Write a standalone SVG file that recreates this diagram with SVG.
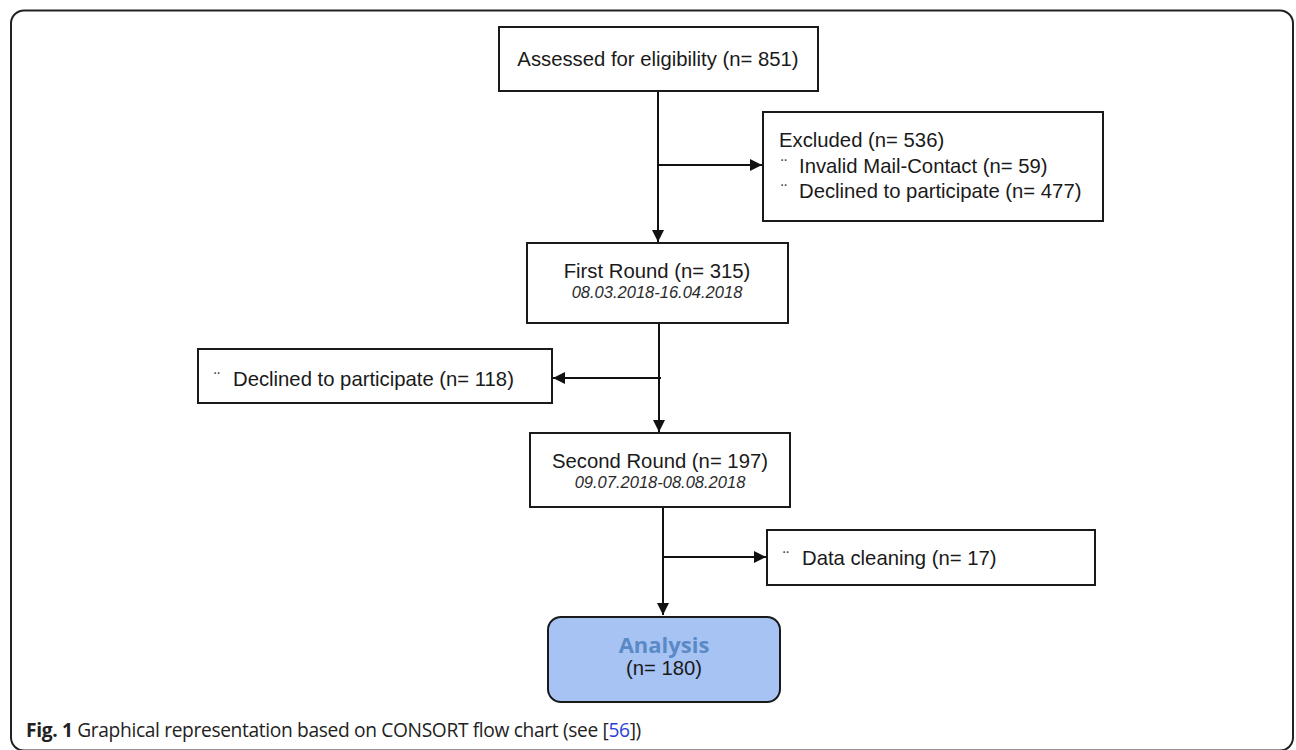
<svg xmlns="http://www.w3.org/2000/svg" width="1296" height="750" viewBox="0 0 1296 750">
<style>
.box{fill:#fff;stroke:#1a1a1a;stroke-width:2}
.t{font-family:"Liberation Sans",Arial,sans-serif;font-size:20.3px;fill:#1a1a1a}
.d{font-family:"Liberation Sans",Arial,sans-serif;font-size:16.5px;font-style:italic;fill:#2a2a2a}
.b{font-family:"Liberation Sans",Arial,sans-serif;font-size:18px;fill:#444}
.c{stroke:#111;stroke-width:2;fill:none}
.cap{font-family:"Open Sans","Noto Sans",sans-serif;font-size:19.2px;letter-spacing:-0.35px;fill:#222}
</style>
<defs>
<marker id="ah" markerWidth="12" markerHeight="12" refX="12" refY="6" orient="auto" markerUnits="userSpaceOnUse">
<path d="M0,0 L12,6 L0,12 Z" fill="#111"/>
</marker>
</defs>
<rect x="11" y="10.5" width="1282" height="740" rx="13" fill="#fff" stroke="#222" stroke-width="2"/>
<g id="connectors">
<line class="c" x1="658" y1="91" x2="658" y2="242" marker-end="url(#ah)"/>
<line class="c" x1="658" y1="165" x2="762" y2="165" marker-end="url(#ah)"/>
<line class="c" x1="659" y1="323" x2="659" y2="432" marker-end="url(#ah)"/>
<line class="c" x1="661" y1="378" x2="553" y2="378" marker-end="url(#ah)"/>
<line class="c" x1="663" y1="508" x2="663" y2="615" marker-end="url(#ah)"/>
<line class="c" x1="663" y1="557" x2="766" y2="557" marker-end="url(#ah)"/>
</g>
<g id="assessed">
<rect class="box" x="499" y="27" width="319" height="64"/>
<text class="t" x="658" y="66" text-anchor="middle">Assessed for eligibility (n= 851)</text>
</g>
<g id="excluded">
<rect class="box" x="763" y="112" width="340" height="109"/>
<text class="t" x="779" y="147">Excluded (n= 536)</text>
<text class="b" x="781" y="172">¨</text>
<text class="t" x="799" y="173">Invalid Mail-Contact (n= 59)</text>
<text class="b" x="781" y="197">¨</text>
<text class="t" x="799" y="198">Declined to participate (n= 477)</text>
</g>
<g id="first-round">
<rect class="box" x="527" y="243" width="261" height="80"/>
<text class="t" x="657" y="278" text-anchor="middle">First Round (n= 315)</text>
<text class="d" x="657" y="298" text-anchor="middle">08.03.2018-16.04.2018</text>
</g>
<g id="declined">
<rect class="box" x="198" y="349" width="354" height="54"/>
<text class="b" x="214" y="385">¨</text>
<text class="t" x="233" y="386">Declined to participate (n= 118)</text>
</g>
<g id="second-round">
<rect class="box" x="530" y="433" width="260" height="74"/>
<text class="t" x="660" y="468" text-anchor="middle">Second Round (n= 197)</text>
<text class="d" x="660" y="488" text-anchor="middle">09.07.2018-08.08.2018</text>
</g>
<g id="data-cleaning">
<rect class="box" x="767" y="530" width="328" height="55"/>
<text class="b" x="783" y="564">¨</text>
<text class="t" x="802" y="565">Data cleaning (n= 17)</text>
</g>
<g id="analysis">
<rect x="548" y="617" width="232" height="85" rx="13" fill="#a6c3f3" stroke="#1a1a1a" stroke-width="2"/>
<text x="664" y="653" text-anchor="middle" font-family="'Open Sans','Noto Sans',sans-serif" font-weight="bold" font-size="22px" fill="#5b89c6">Analysis</text>
<text class="t" x="664" y="675" text-anchor="middle">(n= 180)</text>
</g>
<g id="caption">
<text class="cap" x="26" y="737"><tspan font-weight="bold">Fig. 1</tspan> Graphical representation based on CONSORT flow chart (see [<tspan fill="#2b3fd6">56</tspan>])</text>
</g>
</svg>
